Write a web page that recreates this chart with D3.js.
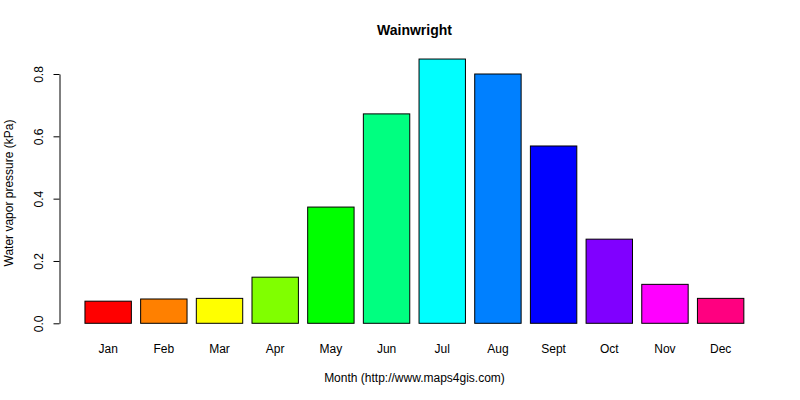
<!DOCTYPE html>
<html>
  <head>
    <meta charset="utf-8">
    <title>Wainwright</title>
    <script src="https://d3js.org/d3.v7.min.js"></script>
    <style>
      body { margin: 0; background: #fff; }
      text { font-family: "Liberation Sans", Arial, sans-serif; fill: #000; }
    </style>
  </head>
  <body>
    <svg id="chart" width="800" height="400"></svg>
    <script>
      // data
      months = ["Jan", "Feb", "Mar", "Apr", "May", "Jun", "Jul", "Aug", "Sept", "Oct", "Nov", "Dec"];
      pressure = [0.071, 0.078, 0.080, 0.148, 0.373, 0.672, 0.848, 0.800, 0.569, 0.270, 0.125, 0.080];
      colours = ["#FF0000", "#FF8000", "#FFFF00", "#80FF00", "#00FF00", "#00FF80",
                 "#00FFFF", "#0080FF", "#0000FF", "#8000FF", "#FF00FF", "#FF0080"];
      yTicks = [0, 0.2, 0.4, 0.6, 0.8];

      svg = d3.select("#chart");
      // R barplot layout: width 1, space 0.2, range padded 4%
      x = d3.scaleLinear().domain([-0.368, 14.968]).range([58.6, 770.2]);
      y = d3.scaleLinear().domain([0, 0.8]).range([323.3, 74]);

      svg.selectAll(".bar")
          .data(pressure)
        .enter().append("rect")
          .classed("bar", true)
          .attr("x", (d, i) => x(0.2 + i * 1.2))
          .attr("width", x(1) - x(0))
          .attr("y", d => y(d))
          .attr("height", d => y(0) - y(d))
          .attr("fill", (d, i) => colours[i])
          .attr("stroke", "#000")
          .attr("stroke-width", 1);

      // y axis
      yAxis = svg.append("g")
        .attr("transform", "translate(59.5,0)")
        .call(d3.axisLeft(y).tickValues(yTicks).tickFormat(d3.format(".1f")).tickSize(6).tickSizeOuter(0));
      yAxis.select(".domain").attr("stroke", "#000");
      yAxis.selectAll(".tick line").attr("stroke", "#000");
      yAxis.selectAll(".tick text")
        .attr("font-size", 12)
        .attr("x", 0).attr("y", 0).attr("dy", null)
        .attr("text-anchor", "middle")
        .attr("transform", "translate(-17,0) rotate(-90)")
        .style("font-family", "Liberation Sans, Arial, sans-serif");

      // month labels
      svg.selectAll(".month")
          .data(months)
        .enter().append("text")
          .classed("month", true)
          .attr("x", (d, i) => x(0.7 + i * 1.2))
          .attr("y", 353)
          .attr("text-anchor", "middle")
          .attr("font-size", 12)
          .text(d => d);

      svg.append("text")
        .attr("x", 414.5).attr("y", 35)
        .attr("text-anchor", "middle")
        .attr("font-size", 14).attr("font-weight", "bold")
        .text("Wainwright");

      svg.append("text")
        .attr("x", 414.5).attr("y", 382)
        .attr("text-anchor", "middle")
        .attr("font-size", 12)
        .text("Month (http://www.maps4gis.com)");

      svg.append("text")
        .attr("transform", "translate(13,193) rotate(-90)")
        .attr("text-anchor", "middle")
        .attr("font-size", 12)
        .text("Water vapor pressure (kPa)");
    </script>
  </body>
</html>
